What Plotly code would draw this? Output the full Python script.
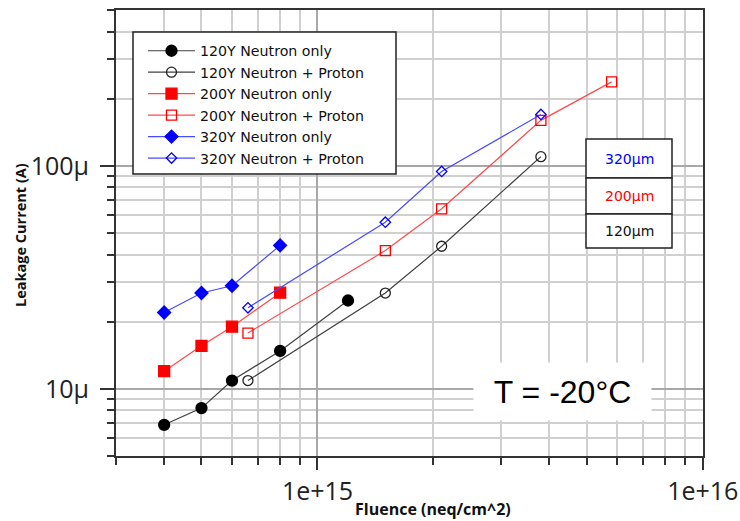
import plotly.graph_objects as go

# Fluence points (neq/cm^2)
fluence_neutron = [4e14, 5e14, 6e14, 8e14, 1.2e15]
fluence_mixed = [6.6e14, 1.5e15, 2.1e15, 3.8e15, 5.8e15]

# Leakage current (A)
i120_neutron = [6.9e-6, 8.2e-6, 1.09e-5, 1.48e-5, 2.49e-5]
i120_mixed = [1.09e-5, 2.69e-5, 4.36e-5, 1.10e-4]
i200_neutron = [1.2e-5, 1.56e-5, 1.9e-5, 2.7e-5]
i200_mixed = [1.78e-5, 4.17e-5, 6.42e-5, 1.6e-4, 2.38e-4]
i320_neutron = [2.2e-5, 2.69e-5, 2.9e-5, 4.4e-5]
i320_mixed = [2.31e-5, 5.59e-5, 9.44e-5, 1.70e-4]

thickness_labels = ["320µm", "200µm", "120µm"]
thickness_colors = ["#0000ff", "#ff0000", "#111111"]

W, H = 740, 521
L, R, T, B = 116, 37, 10, 65
PW, PH = W - L - R, H - T - B


def px(x):
    return (x - L) / PW


def py(y):
    return 1 - (y - T) / PH


FONT = "Open Sans"
LEGEND_FONT = "DejaVu Sans"

series = [
    ("120Y Neutron only", fluence_neutron, i120_neutron, "#404040", "#000000", "circle", 11),
    ("120Y Neutron + Proton", fluence_mixed, i120_mixed, "#404040", "#222222", "circle-open", 10),
    ("200Y Neutron only", fluence_neutron, i200_neutron, "#ff4a4a", "#ff0000", "square", 11),
    ("200Y Neutron + Proton", fluence_mixed, i200_mixed, "#ff4a4a", "#ff0000", "square-open", 10),
    ("320Y Neutron only", fluence_neutron, i320_neutron, "#4a4aff", "#0000ff", "diamond", 10),
    ("320Y Neutron + Proton", fluence_mixed, i320_mixed, "#4a4aff", "#0000ff", "diamond-open", 8),
]

fig = go.Figure()
for name, xs, ys, lc, mc, sym, size in series:
    fig.add_trace(go.Scatter(
        x=xs[:len(ys)], y=ys, name=name, mode="lines+markers",
        line=dict(color=lc, width=1.2),
        marker=dict(symbol=sym, size=size, color=mc,
                    line=dict(color=mc, width=1.3)),
    ))

axis_common = dict(
    type="log", automargin=False,
    showline=True, linecolor="#333333", linewidth=2, mirror=True,
    ticks="outside", tickcolor="#333333", tickwidth=1.5,
    showgrid=True, gridcolor="#a8a8a8", gridwidth=1.5,
    zeroline=False,
    tickfont=dict(family=FONT, size=25, color="#222222"),
    minor=dict(dtick="D1", ticks="outside", ticklen=7, tickcolor="#333333",
               tickwidth=1.5, showgrid=True, gridcolor="#d0d0d0", gridwidth=1.5),
    dtick=1,
)

fig.update_xaxes(**axis_common, range=[14.4771, 16.0005], ticklen=12,
                 exponentformat="e", ticklabelstandoff=0)
fig.update_yaxes(**axis_common, range=[-5.301, -3.301], ticklen=14,
                 exponentformat="SI", ticklabelstandoff=6)

annotations = [
    dict(text="<b>Fluence (neq/cm^2)</b>", x=px(433), y=py(509), xref="paper", yref="paper",
         xanchor="center", yanchor="middle",
         showarrow=False, font=dict(family=FONT, size=16, color="#111111")),
    dict(text="<b>Leakage Current (A)</b>", x=px(20), y=py(235), xref="paper", yref="paper",
         xanchor="center", yanchor="middle",
         showarrow=False, textangle=-90, font=dict(family=FONT, size=14.5, color="#111111")),
    dict(text="T = -20°C", x=px(562), y=py(391.5), xref="paper", yref="paper",
         xanchor="center", yanchor="middle",
         showarrow=False, bgcolor="#ffffff", width=157, height=37, borderpad=10,
         font=dict(family="Liberation Sans", size=32, color="#000000")),
]

# Legend frame
shapes = [dict(type="rect", xref="paper", yref="paper",
               x0=px(133), x1=px(396), y0=py(174), y1=py(32),
               fillcolor="#ffffff", line=dict(color="#222222", width=1.5), layer="above")]

# Thickness key boxes
cells = [(139, 178), (178, 214), (214, 248)]
for (y0, y1), label, color in zip(cells, thickness_labels, thickness_colors):
    shapes.append(dict(type="rect", xref="paper", yref="paper",
                       x0=px(586), x1=px(672), y0=py(y1), y1=py(y0),
                       fillcolor="#ffffff", line=dict(color="#222222", width=1.5), layer="above"))
    annotations.append(dict(text=label, x=px(629), y=py((y0 + y1) / 2),
                            xref="paper", yref="paper", showarrow=False,
                            xanchor="center", yanchor="middle",
                            font=dict(family=LEGEND_FONT, size=14, color=color)))

fig.update_layout(
    width=W, height=H,
    margin=dict(l=L, r=R, t=T, b=B),
    paper_bgcolor="#ffffff", plot_bgcolor="#ffffff",
    showlegend=True,
    legend=dict(x=px(133), y=py(35), xanchor="left", yanchor="top",
                bgcolor="rgba(0,0,0,0)", borderwidth=0,
                font=dict(family=LEGEND_FONT, size=14.2, color="#111111"),
                itemwidth=47, indentation=10, tracegroupgap=0),
    annotations=annotations,
    shapes=shapes,
)

fig.write_html("out.html")
